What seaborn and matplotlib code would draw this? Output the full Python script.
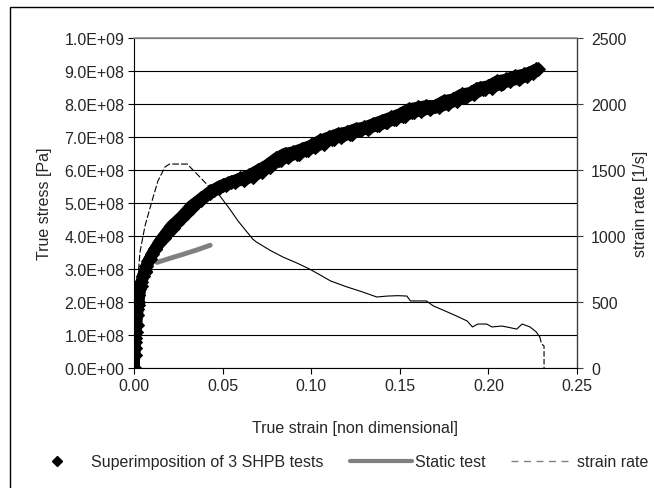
import numpy as np
import pandas as pd
import matplotlib
matplotlib.use("Agg")
import matplotlib.pyplot as plt
from matplotlib.lines import Line2D
from matplotlib.patches import Rectangle
from matplotlib.ticker import FuncFormatter, MultipleLocator
import seaborn as sns

# SHPB tests: true strain [-] and true stress [1e8 Pa]
test1_strain = [0.000, 0.0005, 0.001, 0.0015, 0.002, 0.003, 0.005, 0.007, 0.010, 0.014,
                0.019, 0.024, 0.030, 0.035, 0.040, 0.045, 0.050, 0.055, 0.060, 0.065,
                0.070, 0.075, 0.080, 0.085, 0.090, 0.095, 0.100, 0.105, 0.110, 0.115,
                0.120, 0.125, 0.130, 0.135, 0.140, 0.145, 0.150, 0.155, 0.160, 0.165,
                0.170, 0.175, 0.180, 0.185, 0.190, 0.195, 0.200, 0.205, 0.210, 0.215,
                0.220, 0.225, 0.228]
test1_stress = [0.0, 0.6, 1.1, 1.6, 2.0, 2.4, 2.8, 3.1, 3.45, 3.8,
                4.1, 4.4, 4.7, 5.0, 5.2, 5.4, 5.55, 5.65, 5.75, 5.85,
                6.0, 6.15, 6.35, 6.5, 6.55, 6.65, 6.75, 6.9, 7.0, 7.1,
                7.15, 7.25, 7.3, 7.4, 7.5, 7.6, 7.7, 7.85, 7.9, 7.95,
                7.95, 8.1, 8.15, 8.3, 8.35, 8.5, 8.55, 8.7, 8.75, 8.85,
                8.9, 9.0, 9.05]
test2_strain = [0.000, 0.0008, 0.0015, 0.0025, 0.004, 0.006, 0.009, 0.012, 0.016, 0.021,
                0.027, 0.032, 0.038, 0.043, 0.048, 0.053, 0.058, 0.063, 0.068, 0.073,
                0.078, 0.083, 0.088, 0.093, 0.098, 0.103, 0.108, 0.113, 0.118, 0.123,
                0.128, 0.133, 0.138, 0.143, 0.148, 0.153, 0.158, 0.163, 0.168, 0.173,
                0.178, 0.183, 0.188, 0.193, 0.198, 0.203, 0.208, 0.213, 0.218, 0.223,
                0.227]
test2_stress = [0.0, 0.8, 1.3, 1.9, 2.5, 2.9, 3.3, 3.6, 3.95, 4.3,
                4.6, 4.9, 5.15, 5.35, 5.5, 5.6, 5.7, 5.75, 5.9, 6.05,
                6.2, 6.3, 6.45, 6.5, 6.6, 6.75, 6.85, 6.95, 7.05, 7.1,
                7.2, 7.3, 7.35, 7.45, 7.55, 7.65, 7.75, 7.85, 7.9, 8.0,
                8.05, 8.15, 8.25, 8.45, 8.45, 8.6, 8.65, 8.8, 8.8, 8.95,
                9.05]
test3_strain = [0.000, 0.0003, 0.0008, 0.0012, 0.0018, 0.0025, 0.004, 0.006, 0.008, 0.012,
                0.017, 0.022, 0.027, 0.033, 0.038, 0.043, 0.048, 0.052, 0.057, 0.062,
                0.067, 0.072, 0.077, 0.082, 0.087, 0.092, 0.097, 0.102, 0.107, 0.112,
                0.117, 0.122, 0.127, 0.132, 0.137, 0.142, 0.147, 0.152, 0.157, 0.162,
                0.167, 0.172, 0.177, 0.182, 0.187, 0.192, 0.197, 0.202, 0.207, 0.212,
                0.217, 0.222, 0.225]
test3_stress = [0.0, 0.4, 0.9, 1.3, 1.8, 2.2, 2.6, 2.95, 3.25, 3.6,
                3.95, 4.25, 4.55, 4.85, 5.1, 5.3, 5.45, 5.55, 5.65, 5.7,
                5.8, 5.95, 6.1, 6.3, 6.4, 6.5, 6.6, 6.7, 6.8, 6.95,
                7.0, 7.1, 7.2, 7.25, 7.35, 7.45, 7.55, 7.65, 7.75, 7.8,
                7.85, 7.9, 8.0, 8.1, 8.2, 8.3, 8.45, 8.5, 8.6, 8.7,
                8.75, 8.85, 8.95]

# static test: true strain [-] and true stress [1e8 Pa]
static_strain = [0.013, 0.020, 0.028, 0.035, 0.043]
static_stress = [3.2, 3.32, 3.45, 3.57, 3.72]

# strain rate [1/s] vs true strain
rate_strain = [0.000, 0.0023, 0.0034, 0.0062, 0.010, 0.0135, 0.0175, 0.020, 0.025, 0.030,
               0.0355, 0.042, 0.0485, 0.054, 0.0587, 0.067, 0.069, 0.077, 0.084, 0.092,
               0.099, 0.105, 0.111, 0.120, 0.129, 0.137, 0.143, 0.149, 0.154, 0.156,
               0.165, 0.169, 0.173, 0.182, 0.188, 0.191, 0.194, 0.199, 0.202, 0.2077,
               0.216, 0.219, 0.2235, 0.227, 0.229, 0.230, 0.2314, 0.2314]
rate_value = [0, 700, 880, 1076, 1258, 1417, 1523, 1545, 1545, 1545,
              1470, 1379, 1303, 1205, 1114, 977, 955, 890, 841, 795,
              750, 705, 659, 615, 576, 538, 545, 548, 545, 508,
              508, 470, 447, 394, 356, 311, 333, 333, 311, 318,
              295, 333, 311, 273, 235, 182, 167, 0]

FS = 11.5
sns.set_style("white")
plt.rcParams['font.family'] = ['Liberation Sans', 'DejaVu Sans']
plt.rcParams['font.size'] = FS

fig = plt.figure(figsize=(6.54, 4.89), dpi=100)
ax = fig.add_axes([134 / 654, 1 - 369 / 489, 443 / 654, 330 / 489])

tests = pd.concat([
    pd.DataFrame({'strain': test1_strain, 'stress': np.array(test1_stress) * 1e8, 'test': 'T1'}),
    pd.DataFrame({'strain': test2_strain, 'stress': np.array(test2_stress) * 1e8, 'test': 'T2'}),
    pd.DataFrame({'strain': test3_strain, 'stress': np.array(test3_stress) * 1e8, 'test': 'T3'}),
])

for ti, grp in tests.groupby('test'):
    sns.lineplot(data=grp, x='strain', y='stress', ax=ax, sort=False, estimator=None,
                 color='black', linewidth=8, marker='D', markersize=7,
                 markeredgecolor='black', legend=False, zorder=4)

sns.lineplot(x=static_strain, y=np.array(static_stress) * 1e8, ax=ax, sort=False,
             estimator=None, color='#808080', linewidth=3.5, legend=False, zorder=3)

ax.set_xlim(0, 0.25)
ax.set_ylim(0, 1.0e9)
ax.yaxis.set_major_locator(MultipleLocator(1e8))
ax.xaxis.set_major_locator(MultipleLocator(0.05))
ax.yaxis.set_major_formatter(FuncFormatter(lambda v, p: f"{v:.1E}"))
ax.xaxis.set_major_formatter(FuncFormatter(lambda v, p: f"{v:.2f}"))
ax.grid(axis='y', color='black', linewidth=0.8)
ax.set_axisbelow(True)
ax.tick_params(axis='both', direction='out', length=4, width=0.8, color='black',
               left=True, bottom=True, labelsize=FS, pad=3)
for side in ['top', 'right']:
    ax.spines[side].set_visible(False)
ax.spines['left'].set_color('black')
ax.spines['bottom'].set_color('black')
ax.spines['left'].set_linewidth(0.8)
ax.spines['bottom'].set_linewidth(0.8)
ax.axhline(1.0e9, color='#909090', linewidth=1.2, zorder=5, clip_on=False)

ax.set_xlabel('True strain [non dimensional]', fontsize=FS, labelpad=20)
ax.set_ylabel('True stress [Pa]', fontsize=FS, labelpad=9)

ax2 = ax.twinx()
split = 12
ax2.plot(rate_strain[:split], rate_value[:split], color='black', linewidth=0.8,
         linestyle=(0, (6, 2)), zorder=2)
ax2.plot(rate_strain[split - 1:-3], rate_value[split - 1:-3], color='black', linewidth=0.8, zorder=2)
ax2.plot(rate_strain[-4:], rate_value[-4:], color='black', linewidth=0.8,
         linestyle=(0, (5, 2)), zorder=2)
ax2.set_ylim(0, 2500)
ax2.yaxis.set_major_locator(MultipleLocator(500))
ax2.tick_params(axis='y', direction='out', length=4, width=0.8, color='#404040',
                right=True, labelsize=FS, pad=6)
for side in ['top', 'left', 'bottom']:
    ax2.spines[side].set_visible(False)
ax2.spines['right'].set_color('#404040')
ax2.spines['right'].set_linewidth(1.0)
ax2.set_ylabel('strain rate [1/s]', fontsize=FS, labelpad=5)
ax.set_zorder(ax2.get_zorder() + 1)
ax.patch.set_visible(False)

# outer border
fig.patches.append(Rectangle((10 / 654, -0.1), 1.2, 1 - 8 / 489 + 0.1,
                             transform=fig.transFigure, fill=False,
                             edgecolor='black', linewidth=1.0))

handles = [
    Line2D([], [], color='black', marker='D', markersize=5, linestyle='none'),
    Line2D([], [], color='#808080', linewidth=3),
    Line2D([], [], color='#808080', linewidth=1, linestyle=(0, (5, 4))),
]
labels = ['Superimposition of 3 SHPB tests', 'Static test', 'strain rate']
fig.legend(handles, labels, loc='center left', bbox_to_anchor=(26 / 654, 1 - 463 / 489), ncol=3,
           frameon=False, fontsize=FS, handlelength=3.9, columnspacing=1.6,
           handletextpad=0.2, borderpad=0, borderaxespad=0)

fig.savefig('out.png', dpi=100)
